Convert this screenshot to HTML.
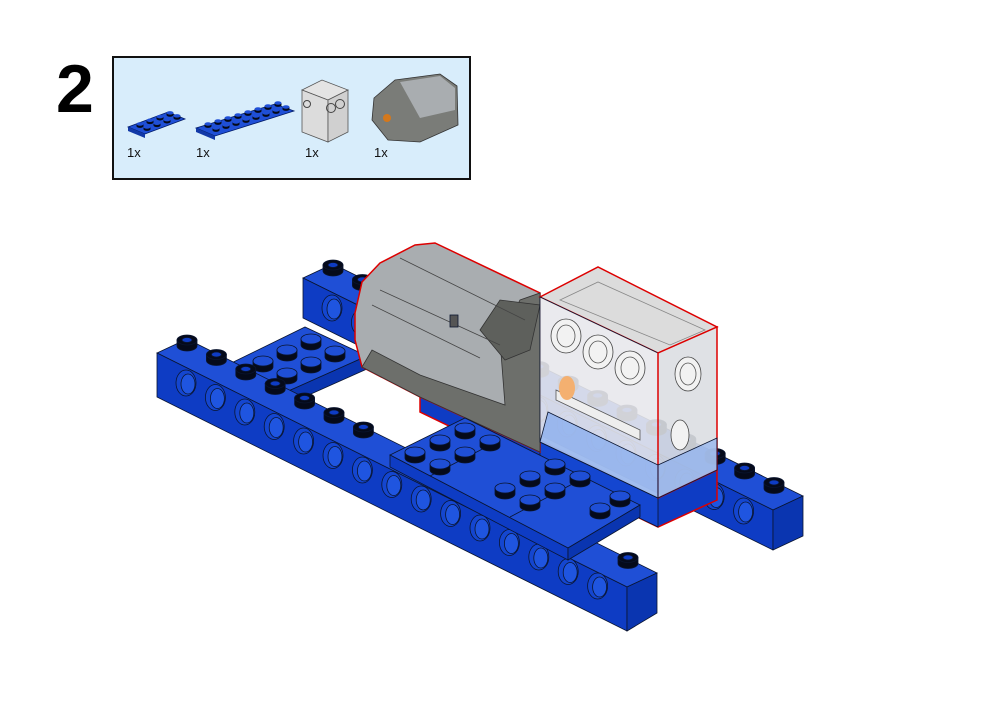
<!DOCTYPE html>
<html><head><meta charset="utf-8"><style>
html,body{margin:0;padding:0;background:#fff;}
body{width:1001px;height:708px;overflow:hidden;position:relative;font-family:"Liberation Sans",sans-serif;}
</style></head><body>
<svg width="1001" height="708" viewBox="0 0 1001 708" xmlns="http://www.w3.org/2000/svg" style="position:absolute;left:0;top:0">
<text x="56" y="112" font-family="Liberation Sans, sans-serif" font-weight="bold" font-size="68">2</text>
<rect x="113" y="57" width="357" height="122" fill="#d8edfb" stroke="#111" stroke-width="2"/>
<!-- small parts -->
<polygon points="128,127 168,112 185,119 145,134" fill="#1f4fd6" stroke="#001a66" stroke-width="0.8"/>
<polygon points="128,127 145,134 145,138 128,131" fill="#1239a8"/>
<polygon points="196,128 275,104 294,111 215,136" fill="#1f4fd6" stroke="#001a66" stroke-width="0.8"/>
<polygon points="196,128 215,136 215,140 196,132" fill="#1239a8"/>
<g id="ip"></g>
<polygon points="302,90 322,80 348,90 328,100" fill="#e4e4e4" stroke="#555" stroke-width="0.8"/>
<polygon points="302,90 328,100 328,142 302,132" fill="#dcdcdc" stroke="#555" stroke-width="0.8"/>
<polygon points="328,100 348,90 348,132 328,142" fill="#d0d0d0" stroke="#555" stroke-width="0.8"/>
<circle cx="331" cy="108" r="4.5" fill="none" stroke="#444"/><circle cx="340" cy="104" r="4.5" fill="none" stroke="#444"/><circle cx="307" cy="104" r="3.5" fill="none" stroke="#444"/>
<polygon points="374,98 395,80 440,74 457,86 458,125 420,142 388,140 372,120" fill="#7a7c78" stroke="#333" stroke-width="0.8"/>
<polygon points="400,82 440,76 455,88 455,110 420,118" fill="#a9adb0"/>
<circle cx="387" cy="118" r="4" fill="#d4781c"/>
<g font-size="13" fill="#111"><text x="127" y="157">1x</text><text x="196" y="157">1x</text><text x="305" y="157">1x</text><text x="374" y="157">1x</text></g>

<g id="m" stroke="#0a1530" stroke-width="0.8">
<!-- back beam -->
<polygon points="303,278 333,264 803,496 773,510" fill="#1f4fd6"/>
<polygon points="303,278 773,510 773,550 303,318" fill="#0e3cc4"/>
<polygon points="773,510 803,496 803,536 773,550" fill="#0a35b0"/>
<g id="bh"></g>
<g id="bs"></g>
<!-- left plate -->
<polygon points="217,370 305,327 367,356 275,397" fill="#1f4fd6"/>
<polygon points="217,370 275,397 275,410 217,383" fill="#0e3cc4"/>
<polygon points="275,397 367,356 367,369 275,410" fill="#0a35b0"/>
<g id="ls"></g>
<!-- base under motor & box -->
<polygon points="420,380 540,440 658,498 717,468 717,500 658,527 420,412" fill="#0e3cc4" stroke="#d00" stroke-width="1.5"/>
<polygon points="540,442 658,498 658,527 540,470" fill="#1446d0"/>
<!-- motor -->
<polygon points="355,313 362,282 380,263 415,245 435,243 540,293 540,452 420,397 362,367 355,340" fill="#a9adb0" stroke="#d00" stroke-width="1.5"/>
<polygon points="362,367 372,350 420,375 505,405 500,340 520,300 540,293 540,452 420,397" fill="#6d6f6b" stroke="#333"/>
<polygon points="480,330 500,300 540,305 530,350 505,360" fill="#5e605c" stroke="#333"/>
<line x1="380" y1="290" x2="500" y2="345" stroke="#444"/><line x1="372" y1="305" x2="480" y2="358" stroke="#444"/>
<line x1="400" y1="258" x2="525" y2="320" stroke="#444"/>
<rect x="450" y="315" width="8" height="12" fill="#555"/>
<!-- box -->
<polygon points="540,297 598,267 717,327 658,353" fill="#dcdcdc" stroke="#d00" stroke-width="1.5"/>
<polygon points="540,297 658,353 658,498 540,442" fill="rgba(232,232,236,0.9)"/>
<polygon points="658,353 717,327 717,470 658,498" fill="rgba(220,222,226,0.9)" stroke="#d00" stroke-width="1.5"/>
<polygon points="548,412 658,465 658,498 540,442" fill="rgba(130,170,240,0.7)"/>
<polygon points="658,465 717,438 717,470 658,498" fill="rgba(130,170,240,0.6)"/>
<polygon points="560,300 598,282 705,330 670,345" fill="none" stroke="#888"/>
<g fill="#f2f2f2" stroke="#444"><ellipse cx="566" cy="336" rx="15" ry="17"/><ellipse cx="598" cy="352" rx="15" ry="17"/><ellipse cx="630" cy="368" rx="15" ry="17"/><ellipse cx="688" cy="374" rx="13" ry="17"/><ellipse cx="680" cy="435" rx="9" ry="15"/></g>
<g fill="none" stroke="#555"><ellipse cx="566" cy="336" rx="9" ry="11"/><ellipse cx="598" cy="352" rx="9" ry="11"/><ellipse cx="630" cy="368" rx="9" ry="11"/><ellipse cx="688" cy="374" rx="8" ry="11"/></g>
<polygon points="556,390 640,430 640,440 556,400" fill="#eee" stroke="#555"/>
<ellipse cx="567" cy="388" rx="8" ry="12" fill="#f4b070" stroke="none"/>
<!-- front beam -->
<polygon points="157,353 187,339 657,573 627,587" fill="#1f4fd6"/>
<polygon points="157,353 627,587 627,631 157,397" fill="#0e3cc4"/>
<polygon points="627,587 657,573 657,613 627,631" fill="#0a35b0"/>
<g id="fh"></g>
<g id="fs"></g>
<!-- middle plate -->
<polygon points="390,455 465,418 640,505 568,548" fill="#1f4fd6"/>
<polygon points="390,455 568,548 568,560 390,467" fill="#0e3cc4"/>
<polygon points="568,548 640,505 640,517 568,560" fill="#0a35b0"/>
<line x1="430" y1="476" x2="500" y2="440" /><line x1="510" y1="517" x2="580" y2="480"/>
<g id="ms"></g>
</g>
</svg>
<script>
var NS="http://www.w3.org/2000/svg";
function stud(g,x,y,hollow,s){
 s=s||1;
 var p=document.createElementNS(NS,"path");
 p.setAttribute("d","M"+(x-10*s)+","+y+" v"+(6*s)+" a"+(10*s)+","+(5*s)+" 0 0 0 "+(20*s)+",0 v"+(-6*s)+" z");
 p.setAttribute("fill","#050a1a");g.appendChild(p);
 var e=document.createElementNS(NS,"ellipse");
 e.setAttribute("cx",x);e.setAttribute("cy",y);e.setAttribute("rx",10*s);e.setAttribute("ry",5*s);
 e.setAttribute("fill",hollow?"#050a1a":"#1f4fd6");g.appendChild(e);
 if(hollow){var h=document.createElementNS(NS,"ellipse");h.setAttribute("cx",x);h.setAttribute("cy",y);h.setAttribute("rx",5*s);h.setAttribute("ry",2.5*s);h.setAttribute("fill","#0e3cc4");g.appendChild(h);}
}
function hole(g,x,y){
 var e=document.createElementNS(NS,"ellipse");e.setAttribute("cx",x);e.setAttribute("cy",y);e.setAttribute("rx",10);e.setAttribute("ry",13);e.setAttribute("fill","#1446d0");e.setAttribute("stroke","#0a1530");g.appendChild(e);
 var e2=document.createElementNS(NS,"ellipse");e2.setAttribute("cx",x+2);e2.setAttribute("cy",y+1);e2.setAttribute("rx",7);e2.setAttribute("ry",10);e2.setAttribute("fill","#1f55e0");e2.setAttribute("stroke","#0a1530");g.appendChild(e2);
}
var bh=document.getElementById("bh");
for(var i=0;i<15;i++){hole(bh,332+29.4*i,308+14.5*i);}
var bs=document.getElementById("bs");
for(var i=0;i<16;i++){stud(bs,333+29.4*i,265+14.5*i,true);}
var fs=document.getElementById("fs");
for(var i=0;i<16;i++){var x=187+29.4*i;if(x>370&&x<600)continue;stud(fs,x,340+14.5*i,true);}
var fh=document.getElementById("fh");
for(var i=0;i<15;i++){hole(fh,186+29.4*i,383+14.5*i);}
var ls=document.getElementById("ls");
[[240,372],[263,361],[287,350],[311,339],[263,384],[287,373],[311,362],[335,351]].forEach(function(p){stud(ls,p[0],p[1],false);});
var ms=document.getElementById("ms");
[[415,452],[440,440],[465,428],[440,464],[465,452],[490,440],[505,488],[530,476],[555,464],[530,500],[555,488],[580,476],[600,508],[620,496]].forEach(function(p){stud(ms,p[0],p[1],false);});
var ip=document.getElementById("ip");
for(var i=0;i<4;i++){stud(ip,140+10*i,124-3.7*i,false,0.35);stud(ip,147+10*i,127-3.7*i,false,0.35);}
for(var i=0;i<8;i++){stud(ip,208+10*i,124-3*i,false,0.35);stud(ip,216+10*i,128-3*i,false,0.35);}
</script>
</body></html>
